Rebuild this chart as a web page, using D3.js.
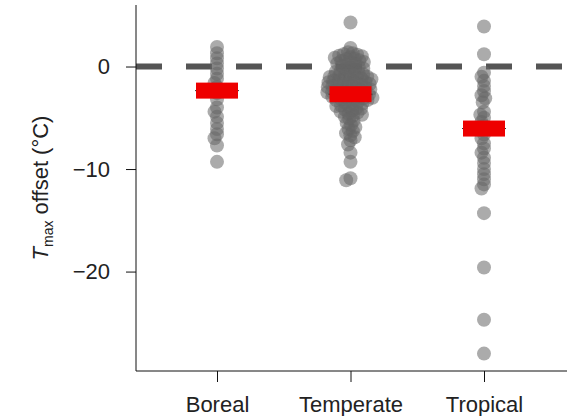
<!DOCTYPE html>
<html>
<head>
<meta charset="utf-8">
<script src="https://cdn.jsdelivr.net/npm/d3@7"></script>
<style>
  body { margin: 0; background: #fff; }
  svg { display: block; font-family: "Liberation Sans", Arial, sans-serif; }
</style>
</head>
<body>
<div id="chart"></div>
<script>
const categories = ['Boreal', 'Temperate', 'Tropical'];

const borealValues = [1.9, 1.3, 0.8, 0.3, -0.2, -0.7, -1.2, -1.6, -2.0, -2.6, -3.2,
  -4.0, -4.4, -4.9, -5.5, -6.1, -6.6, -7.0, -7.7, -9.3];

const temperateValues = [4.3, 1.8, 1.4,
  1.3, 1.2, 1.15, 1.05, 1.0, 0.9, 0.85, 0.75, 0.7, 0.6, 0.55, 0.45, 0.4, 0.3, 0.25, 0.15, 0.05,
  -0.05, -0.15, -0.2, -0.3, -0.35, -0.45, -0.5, -0.6, -0.65, -0.75, -0.8, -0.85, -0.9, -0.95,
  -1.0, -1.02, -1.1, -1.13, -1.2, -1.24, -1.3, -1.37, -1.4, -1.46, -1.5, -1.53, -1.6, -1.67,
  -1.7, -1.74, -1.8, -1.86, -1.9, -1.93, -2.0, -2.04, -2.1, -2.16, -2.2, -2.23, -2.3, -2.35,
  -2.4, -2.47, -2.5, -2.54, -2.6, -2.66, -2.7, -2.73, -2.8, -2.87, -2.9, -2.96, -3.0, -3.05,
  -3.1, -3.17, -3.2, -3.26, -3.3, -3.38, -3.45,
  -3.55, -3.6, -3.7, -3.8, -3.85, -3.95, -4.05, -4.1, -4.2, -4.3, -4.4, -4.5, -4.6, -4.7, -4.8, -4.9,
  -5.1, -5.3, -5.5, -5.7, -5.9, -6.1, -6.3, -6.5, -6.7, -6.9,
  -7.2, -7.6, -8.4, -9.3, -10.9, -11.1];

const tropicalValues = [3.9, 1.2, -0.6, -1.0, -1.4, -1.9, -2.4, -2.8, -3.1, -3.5,
  -4.4, -4.7, -5.0, -5.4, -5.8, -6.2, -6.6, -7.0, -7.5, -8.0, -8.4, -8.9, -9.4,
  -10.0, -10.5, -11.0, -11.5, -11.9, -14.3, -19.6, -24.7, -28.0];

const centerValues = [-2.35, -2.7, -6.05];
const yTicks = [0, -10, -20];

const width = 567, height = 416;
const axisX = 136, axisY = 371;

const svg = d3.select('#chart')
  .append('svg')
  .attr('width', width)
  .attr('height', height);

const y = d3.scaleLinear()
  .domain([-29.6, 6])
  .range([370, 5]);

const x = d3.scalePoint()
  .domain(categories)
  .range([217, 484]);

// zero reference line
svg.append('line')
  .attr('x1', axisX)
  .attr('x2', 562)
  .attr('y1', y(0))
  .attr('y2', y(0))
  .attr('stroke', '#555')
  .attr('stroke-width', 6)
  .attr('stroke-dasharray', '26,24');

// simple beeswarm: push each point sideways until it clears the ones already placed
function dodge(values, sep) {
  const placed = [];
  return values.slice().sort((a, b) => b - a).map(v => {
    const py = y(v);
    const near = placed.filter(p => Math.abs(p.py - py) < sep);
    const cands = [0];
    near.forEach(p => {
      const d = Math.sqrt(sep * sep - (p.py - py) ** 2);
      cands.push(p.dx - d, p.dx + d);
    });
    cands.sort((a, b) => Math.abs(a) - Math.abs(b));
    const dx = cands.find(c => near.every(p => (p.dx - c) ** 2 + (p.py - py) ** 2 >= sep * sep - 1e-6));
    placed.push({ py, dx });
    return { v, py, dx };
  });
}

const series = [borealValues, temperateValues, tropicalValues];

series.forEach((vals, i) => {
  const pts = dodge(vals, 4.8);
  svg.append('g')
    .selectAll('circle')
    .data(pts)
    .join('circle')
    .attr('cx', d => x(categories[i]) + d.dx)
    .attr('cy', d => d.py)
    .attr('r', 7)
    .attr('fill', '#666')
    .attr('fill-opacity', 0.55);
});

// central value bars
const bars = svg.append('g')
  .selectAll('g')
  .data(categories.map((c, i) => ({ c, v: centerValues[i] })))
  .join('g')
  .attr('transform', d => `translate(${x(d.c)},${y(d.v)})`);

bars.append('line')
  .attr('x1', -22)
  .attr('x2', 22)
  .attr('stroke', '#333')
  .attr('stroke-width', 1);

bars.append('rect')
  .attr('x', -21)
  .attr('y', -8)
  .attr('width', 42)
  .attr('height', 16)
  .attr('fill', '#ee0000');

// y axis
const yAxis = svg.append('g')
  .attr('transform', `translate(${axisX},0)`)
  .call(d3.axisLeft(y).tickValues(yTicks).tickSize(10).tickPadding(16).tickSizeOuter(0));

yAxis.select('.domain').remove();
yAxis.append('line')
  .attr('y1', 5)
  .attr('y2', axisY)
  .attr('stroke', '#111');
yAxis.selectAll('.tick line').attr('stroke', '#111');
yAxis.selectAll('.tick text')
  .attr('font-size', 22)
  .attr('fill', '#222')
  .attr('font-family', '"Liberation Sans", Arial, sans-serif');

// x axis
const xAxis = svg.append('g')
  .attr('transform', `translate(0,${axisY})`)
  .call(d3.axisBottom(x).tickSize(11).tickPadding(14).tickSizeOuter(0));

xAxis.select('.domain').remove();
xAxis.append('line')
  .attr('x1', axisX)
  .attr('x2', width)
  .attr('stroke', '#111');
xAxis.selectAll('.tick line').attr('stroke', '#111');
xAxis.selectAll('.tick text')
  .attr('font-size', 22)
  .attr('fill', '#222')
  .attr('font-family', '"Liberation Sans", Arial, sans-serif');

// y label
const ylab = svg.append('text')
  .attr('transform', `translate(48,${188}) rotate(-90)`)
  .attr('text-anchor', 'middle')
  .attr('font-size', 22)
  .attr('fill', '#222');
ylab.append('tspan').attr('font-style', 'italic').text('T');
ylab.append('tspan').attr('font-size', 14).attr('dy', 5).text('max');
ylab.append('tspan').attr('dy', -5).text(' offset (°C)');
</script>
</body>
</html>
